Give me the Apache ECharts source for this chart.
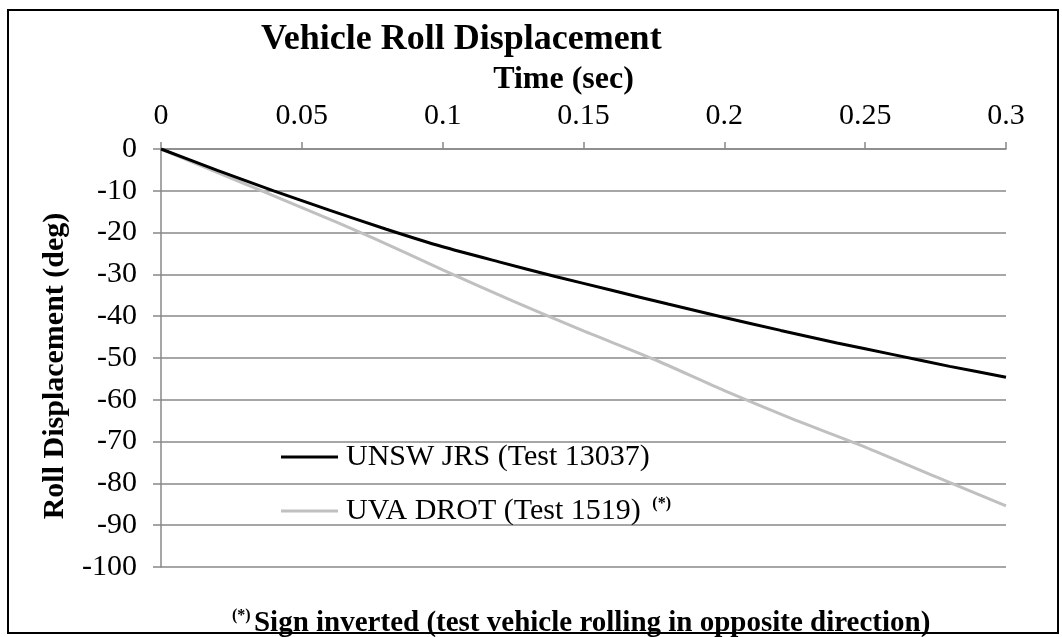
<!DOCTYPE html>
<html>
<head>
<meta charset="utf-8">
<script src="https://cdn.jsdelivr.net/npm/echarts@6/dist/echarts.min.js"></script>
<style>
  html, body { margin: 0; padding: 0; background: #fff; }
  #chart-container { width: 1062px; height: 637px; }
</style>
</head>
<body>
<div id="chart-container"></div>
<script>
// time (sec)
const unswTime = [0, 0.02, 0.04, 0.06, 0.08, 0.1, 0.12, 0.14, 0.16, 0.18, 0.2, 0.22, 0.24, 0.26, 0.28, 0.3];
const unswRoll = [0, -5.1, -10, -14.7, -19.2, -23.4, -27.0, -30.5, -33.8, -37.1, -40.3, -43.4, -46.4, -49.2, -52.0, -54.6];

const uvaTime = [0, 0.025, 0.05, 0.075, 0.1, 0.125, 0.15, 0.175, 0.2, 0.225, 0.25, 0.275, 0.3];
const uvaRoll = [0, -7.0, -14.0, -21.2, -28.9, -36.4, -43.5, -50.3, -57.8, -64.8, -71.3, -78.4, -85.4];

const seriesNames = ['UNSW JRS (Test 13037)', 'UVA DROT (Test 1519)'];

const font = '"Liberation Serif", "Times New Roman", serif';
const dom = document.getElementById('chart-container');
const myChart = echarts.init(dom, null, { renderer: 'canvas' });

function pairs(xs, ys) {
    return xs.map((x, i) => [x, ys[i]]);
}

const option = {
    animation: false,
    title: {
        text: 'Vehicle Roll Displacement',
        left: 256,
        top: 17,
        textStyle: { fontFamily: font, fontSize: 36, fontWeight: 'bold', color: '#000' }
    },
    legend: {
        orient: 'vertical',
        left: 276,
        top: 437,
        itemGap: 24,
        itemWidth: 57,
        itemHeight: 3,
        icon: 'rect',
        data: seriesNames,
        formatter: function (name) {
            if (name === seriesNames[1]) return name + ' {s|(*)}';
            return name;
        },
        textStyle: {
            fontFamily: font, fontSize: 30, color: '#000', padding: [0, 0, 0, 3],
            rich: {
                s: { fontFamily: font, fontSize: 16, fontWeight: 'bold', color: '#000', verticalAlign: 'top', padding: [0, 0, 14, 4] }
            }
        }
    },
    grid: { left: 161, right: 56, top: 149, bottom: 70 },
    xAxis: {
        type: 'value',
        position: 'top',
        min: 0,
        max: 0.3,
        interval: 0.05,
        name: 'Time (sec)',
        nameLocation: 'middle',
        nameGap: 52,
        nameTextStyle: { fontFamily: font, fontSize: 32, fontWeight: 'bold', color: '#000', padding: [0, 40, 0, 0] },
        axisLine: { show: true, lineStyle: { color: '#888', width: 1.5 } },
        axisTick: { show: true, length: 7, lineStyle: { color: '#888', width: 1.5 } },
        axisLabel: { fontFamily: font, fontSize: 30, color: '#000', margin: 18 },
        splitLine: { show: false }
    },
    yAxis: {
        type: 'value',
        min: -100,
        max: 0,
        interval: 10,
        name: 'Roll Displacement (deg)',
        nameLocation: 'middle',
        nameRotate: 90,
        nameGap: 91,
        nameTextStyle: { fontFamily: font, fontSize: 30, fontWeight: 'bold', color: '#000', padding: [0, 16, 0, 0] },
        axisLine: { show: true, lineStyle: { color: '#888', width: 1.5 } },
        axisTick: { show: true, length: 8, lineStyle: { color: '#888', width: 1.5 } },
        axisLabel: { fontFamily: font, fontSize: 30, color: '#000', margin: 24 },
        splitLine: { show: true, lineStyle: { color: '#888', width: 1.5 } }
    },
    graphic: [
        {
            type: 'text',
            left: 232,
            top: 608,
            style: {
                text: '{s|(*)} {b|Sign inverted (test vehicle rolling in opposite direction)}',
                rich: {
                    s: { fontFamily: font, fontSize: 16, fontWeight: 'bold', fill: '#000', verticalAlign: 'top', padding: [0, 0, 16, 0] },
                    b: { fontFamily: font, fontSize: 29, fontWeight: 'bold', fill: '#000' }
                }
            }
        },
        {
            type: 'rect',
            shape: { x: 8, y: 10, width: 1050, height: 623 },
            style: { fill: 'none', stroke: '#000', lineWidth: 2 },
            z: 100
        }
    ],
    series: [
        {
            name: seriesNames[0],
            type: 'line',
            smooth: 0.2,
            showSymbol: false,
            z: 3,
            lineStyle: { color: '#000', width: 3 },
            itemStyle: { color: '#000' },
            data: pairs(unswTime, unswRoll)
        },
        {
            name: seriesNames[1],
            type: 'line',
            smooth: 0.2,
            showSymbol: false,
            z: 2,
            lineStyle: { color: '#c0c0c0', width: 3 },
            itemStyle: { color: '#c0c0c0' },
            data: pairs(uvaTime, uvaRoll)
        }
    ]
};

myChart.setOption(option);
</script>
</body>
</html>
